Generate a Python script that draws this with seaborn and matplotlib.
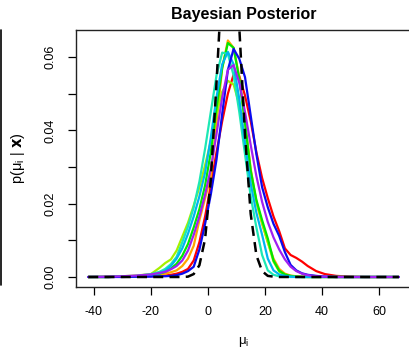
import matplotlib
matplotlib.use("Agg")
import matplotlib.pyplot as plt
import pandas as pd
import seaborn as sns
from matplotlib.lines import Line2D

# posterior density of each school's mean
mu_grid = [-42, -35, -30, -25, -20, -17, -15, -13, -11, -9, -7, -5, -3, -1,
           1, 3, 5, 7, 9, 11, 13, 15, 17, 19, 21, 23, 25, 27, 29, 31, 33, 35,
           38, 41, 45, 50, 55, 60, 67]

dens_red = [0, 0, 0.0001, 0.0001, 0.0002, 0.0003, 0.0004, 0.0006, 0.0009, 0.0014, 0.0022, 0.0045, 0.0095, 0.0165,
            0.025, 0.034, 0.0425, 0.05, 0.0552, 0.0548, 0.0495, 0.0425, 0.034, 0.027, 0.0215, 0.0165, 0.0125, 0.0078,
            0.006, 0.0052, 0.0042, 0.003, 0.0016, 0.0008, 0.0003, 0.0001, 0, 0, 0]
dens_orange = [0, 0, 0.0001, 0.0002, 0.0004, 0.0006, 0.0009, 0.0013, 0.0018, 0.003, 0.005, 0.0085, 0.0155, 0.0215,
               0.0275, 0.042, 0.057, 0.0645, 0.0625, 0.0545, 0.0425, 0.0295, 0.0205, 0.0145, 0.0095, 0.005, 0.0022,
               0.0009, 0.0004, 0.0002, 0.0001, 0, 0, 0, 0, 0, 0, 0, 0]
dens_yellowgreen = [0, 0.0001, 0.0002, 0.0004, 0.0008, 0.0025, 0.0038, 0.0048, 0.0072, 0.011, 0.0148, 0.0195, 0.0245,
                    0.0305, 0.037, 0.0445, 0.0505, 0.0535, 0.0525, 0.047, 0.0375, 0.028, 0.0205, 0.0148, 0.0095,
                    0.0042, 0.0015, 0.0005, 0.0002, 0.0001, 0, 0, 0, 0, 0, 0, 0, 0, 0]
dens_green = [0, 0, 0.0001, 0.0002, 0.0005, 0.0009, 0.0014, 0.0023, 0.0036, 0.0058, 0.009, 0.0135, 0.0185, 0.025,
              0.034, 0.046, 0.057, 0.0638, 0.0625, 0.054, 0.042, 0.029, 0.021, 0.0155, 0.0105, 0.0045, 0.0017,
              0.0007, 0.0003, 0.0001, 0, 0, 0, 0, 0, 0, 0, 0, 0]
dens_turquoise = [0, 0, 0.0001, 0.0003, 0.0008, 0.0014, 0.0022, 0.0035, 0.0055, 0.0095, 0.0138, 0.019, 0.026, 0.035,
                  0.045, 0.055, 0.0612, 0.0608, 0.055, 0.045, 0.0335, 0.022, 0.0135, 0.006, 0.0018, 0.0006, 0.0002,
                  0.0001, 0, 0, 0, 0, 0, 0, 0, 0, 0, 0, 0]
dens_skyblue = [0, 0, 0.0001, 0.0002, 0.0005, 0.001, 0.0017, 0.003, 0.005, 0.0078, 0.0118, 0.0165, 0.022, 0.0285,
                0.038, 0.049, 0.058, 0.0614, 0.058, 0.0485, 0.0365, 0.0255, 0.0175, 0.0115, 0.005, 0.0018, 0.0007,
                0.0003, 0.0001, 0, 0, 0, 0, 0, 0, 0, 0, 0, 0]
dens_blue = [0, 0, 0, 0.0001, 0.0001, 0.0002, 0.0002, 0.0003, 0.0005, 0.0009, 0.0016, 0.0028, 0.0075, 0.0145,
             0.0225, 0.032, 0.0445, 0.0565, 0.0622, 0.0595, 0.0545, 0.044, 0.0335, 0.0245, 0.019, 0.0145, 0.0112,
             0.0068, 0.0033, 0.0018, 0.001, 0.0006, 0.0003, 0.0001, 0, 0, 0, 0, 0]
dens_purple = [0, 0.0001, 0.0002, 0.0004, 0.0007, 0.0011, 0.0014, 0.0021, 0.003, 0.0045, 0.0072, 0.0115, 0.0165,
               0.0225, 0.0295, 0.039, 0.049, 0.0565, 0.0578, 0.053, 0.045, 0.036, 0.0275, 0.0205, 0.015, 0.0108,
               0.0075, 0.0048, 0.0028, 0.0016, 0.0009, 0.0005, 0.0002, 0.0001, 0, 0, 0, 0, 0]
dens_pooled = [0, 0, 0, 0, 0, 0, 0, 0, 0, 0, 0.0001, 0.0008, 0.0032, 0.0104,
               0.0266, 0.0529, 0.082, 0.0989, 0.0929, 0.068, 0.0388, 0.0172, 0.0059, 0.0016, 0.0003, 0.0001, 0,
               0, 0, 0, 0, 0, 0, 0, 0, 0, 0, 0, 0]

school_colors = ["#FF0000", "#FFA500", "#A6F000", "#00E800", "#1CE8B4", "#00B4F0", "#0A0AF0", "#A020F0"]
school_curves = [dens_red, dens_orange, dens_yellowgreen, dens_green, dens_turquoise,
                 dens_skyblue, dens_blue, dens_purple]

x_ticks = [-40, -20, 0, 20, 40, 60]
x_ticklabels = ["-40", "-20", "0", "20", "40", "60"]
y_ticks = [0.00, 0.01, 0.02, 0.03, 0.04, 0.05, 0.06]
y_ticklabels = ["0.00", "", "0.02", "", "0.04", "", "0.06"]

W, H = 409, 349

sns.set_style("ticks")
plt.rcParams["font.family"] = ["Liberation Sans", "DejaVu Sans"]
plt.rcParams["axes.unicode_minus"] = False
plt.rcParams["mathtext.default"] = "regular"
plt.rcParams["text.color"] = "black"
plt.rcParams["xtick.color"] = "black"
plt.rcParams["ytick.color"] = "black"
plt.rcParams["xtick.labelcolor"] = "black"
plt.rcParams["ytick.labelcolor"] = "black"

frames = []
for i, curve in enumerate(school_curves):
    frames.append(pd.DataFrame({"mu": mu_grid, "density": curve, "school": i}))
df = pd.concat(frames, ignore_index=True)
pooled_df = pd.DataFrame({"mu": mu_grid, "density": dens_pooled})

fig = plt.figure(figsize=(W / 100, H / 100), dpi=100)
ax = fig.add_axes([76 / W, 1 - 287 / H, (412 - 76) / W, (287 - 30) / H])

sns.lineplot(data=df, x="mu", y="density", hue="school", palette=school_colors,
             estimator=None, sort=False, linewidth=1.6, legend=False, ax=ax)
sns.lineplot(data=pooled_df, x="mu", y="density", color="black", linestyle=(0, (4, 2.5)),
             estimator=None, sort=False, linewidth=1.8, ax=ax)

ax.set_xlim(-46.3, 71.6)
ax.set_ylim(-0.00273, 0.06736)
ax.set_xticks(x_ticks)
ax.set_xticklabels(x_ticklabels)
ax.set_yticks(y_ticks)
ax.set_yticklabels(y_ticklabels)
ax.tick_params(axis="both", direction="out", length=5.8, width=0.9, labelsize=9,
               color="black", labelcolor="black")
ax.tick_params(axis="x", pad=8)
ax.tick_params(axis="y", pad=8)
for lab in ax.get_yticklabels():
    lab.set_rotation(90)
    lab.set_va("center")
    lab.set_ha("right")
for side in ["left", "right", "top", "bottom"]:
    ax.spines[side].set_color("#222222")
    ax.spines[side].set_linewidth(1.0)
ax.set_xlabel("")
ax.set_ylabel("")

fig.text(244 / W, 1 - 15 / H, "Bayesian Posterior", ha="center", va="center",
         fontsize=11.5, fontweight="bold")
fig.text(244 / W, 1 - 342 / H, r"$\mu_i$", ha="center", va="center", fontsize=9.5)
fig.text(18 / W, 1 - 158 / H, r"p($\mu_i$ | $\mathbf{x}$)", ha="center", va="center",
         rotation=90, fontsize=10.5)

# edge of the neighbouring panel that shows at the far left of the reference
fig.add_artist(Line2D([0.8 / W, 0.8 / W], [1 - 285 / H, 1 - 30 / H], color="black", linewidth=1.2))

fig.savefig("out.png", dpi=100)
